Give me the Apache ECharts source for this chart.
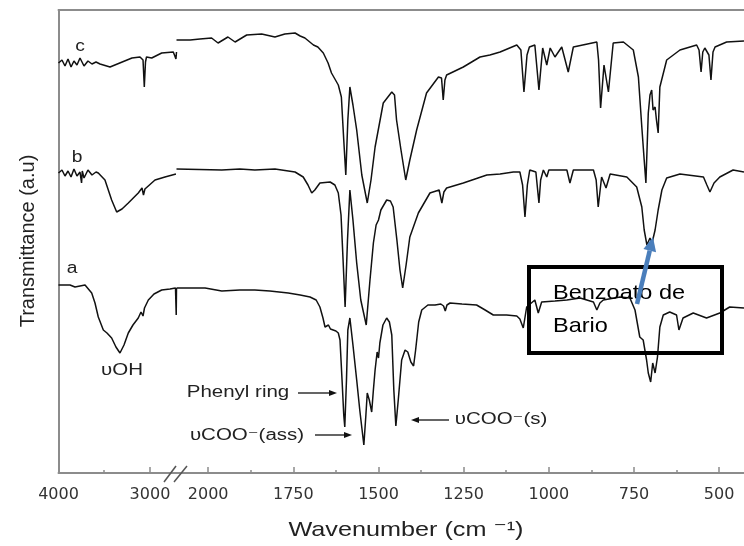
<!DOCTYPE html>
<html>
<head>
<meta charset="utf-8">
<script src="https://cdn.jsdelivr.net/npm/echarts@6/dist/echarts.min.js"></script>
<style>
  html, body { margin: 0; padding: 0; background: #fff; }
  #main { width: 744px; height: 546px; }
</style>
</head>
<body>
<div id="main"></div>
<script>
// FTIR spectra, [wavenumber (cm-1), transmittance (a.u., curves stacked)]
const specC = [
  [4000,410],[3962,413],[3929,407],[3896,414],[3863,406],[3831,412],[3798,408],[3765,415],[3721,407],[3678,412],
  [3634,409],[3590,411],[3546,409],[3437,406],[3197,415],[3109,416],[3076,413],[3062,386],[3049,411],[3038,416],
  [2981,415],[2872,420],[2745,421],[2716,414],[2710,421],
  [2093,433],[2053,433],[2024,434],[1990,435],[1971,430],[1942,436],[1921,431],[1887,438],[1843,439],[1804,436],
  [1775,439],[1745,440],[1730,437],[1716,435],[1691,428],[1678,426],[1662,420],[1648,410],[1638,400],[1618,388],
  [1609,376],[1602,333],[1596,298],[1590,353],[1584,386],[1575,368],[1564,343],[1549,298],[1533,270],[1522,293],
  [1510,326],[1486,370],[1461,381],[1453,378],[1447,353],[1434,323],[1420,293],[1408,313],[1388,343],[1359,380],
  [1324,396],[1315,395],[1310,373],[1305,393],[1300,398],[1251,406],[1202,416],[1173,418],[1143,421],[1094,428],
  [1082,423],[1073,381],[1064,418],[1057,426],[1041,428],[1029,383],[1018,425],[1006,408],[996,425],[982,416],
  [962,426],[943,401],[928,426],[859,431],[854,413],[848,365],[838,408],[825,381],[811,430],[781,431],
  [752,423],[737,396],[727,346],[720,313],[715,290],[708,360],[703,378],[698,383],[694,363],[688,366],
  [684,353],[679,340],[674,386],[654,413],[615,423],[566,428],[559,423],[553,401],[548,421],[542,425],
  [530,418],[524,393],[518,421],[512,426],[478,431],[427,432]
];
const specB = [
  [4000,300],[3962,303],[3929,297],[3896,302],[3863,296],[3831,304],[3798,297],[3765,301],[3748,290],[3740,302],
  [3721,295],[3678,303],[3634,298],[3590,301],[3565,300],[3492,293],[3419,273],[3364,261],[3306,264],[3237,270],
  [3128,280],[3087,285],[3071,278],[3055,284],[2945,293],[2836,296],[2716,299],[2710,299],
  [2093,304],[1960,303],[1907,304],[1863,303],[1804,304],[1745,301],[1721,296],[1707,288],[1696,280],[1687,283],
  [1672,290],[1642,291],[1628,288],[1618,280],[1610,258],[1604,213],[1598,166],[1591,233],[1584,283],[1575,253],
  [1564,210],[1552,173],[1536,148],[1525,193],[1515,230],[1507,248],[1500,253],[1493,263],[1476,273],[1465,272],
  [1457,266],[1446,233],[1437,203],[1429,185],[1419,208],[1408,236],[1383,260],[1349,280],[1322,283],[1314,270],
  [1308,281],[1300,285],[1251,290],[1182,298],[1143,299],[1104,301],[1085,301],[1077,288],[1070,256],[1063,288],
  [1056,303],[1038,301],[1029,270],[1024,293],[1016,303],[1006,296],[1000,303],[947,303],[938,290],[928,303],
  [869,303],[861,293],[855,266],[845,296],[832,285],[820,299],[771,296],[742,286],[727,266],[720,243],
  [712,228],[703,235],[697,230],[688,243],[679,263],[668,283],[654,295],[615,299],[546,296],[536,288],
  [527,281],[515,290],[498,296],[459,303],[427,301]
];
const specA = [
  [4000,188],[3874,188],[3820,186],[3710,188],[3637,180],[3601,170],[3565,156],[3510,143],[3470,140],[3419,135],
  [3372,126],[3328,120],[3284,128],[3237,140],[3186,148],[3128,155],[3098,161],[3076,157],[3060,165],[3018,173],
  [2956,179],[2872,183],[2781,184],[2721,185],[2716,185],[2713,158],[2710,185],
  [2093,185],[2009,185],[1960,182],[1907,183],[1863,183],[1819,182],[1765,180],[1730,178],[1701,176],[1683,173],
  [1672,166],[1663,155],[1657,146],[1647,148],[1641,144],[1633,143],[1625,142],[1618,140],[1613,133],[1607,93],
  [1602,58],[1599,46],[1594,93],[1590,143],[1584,155],[1575,128],[1564,93],[1555,63],[1543,28],[1537,58],
  [1533,80],[1527,73],[1520,61],[1515,83],[1510,103],[1504,121],[1500,115],[1496,130],[1487,148],[1476,155],
  [1468,151],[1461,138],[1455,83],[1449,47],[1442,73],[1432,113],[1422,123],[1414,121],[1405,111],[1397,107],
  [1391,123],[1382,151],[1373,163],[1355,168],[1334,168],[1317,169],[1309,167],[1304,162],[1299,168],[1290,170],
  [1255,169],[1212,168],[1187,163],[1163,158],[1124,158],[1094,157],[1085,154],[1075,145],[1065,166],[1041,173],
  [1031,160],[1021,171],[982,172],[947,173],[908,175],[869,171],[859,163],[850,170],[840,173],[791,176],
  [762,175],[747,163],[733,136],[723,133],[713,113],[708,100],[701,91],[695,110],[688,100],[681,116],
  [674,146],[664,158],[645,161],[625,158],[618,143],[606,155],[576,160],[537,155],[498,160],[469,166],[427,165]
];

// broken wavenumber axis: high range 4000..2710, low range 2093..427
const highRange = [2710, 4000];
const lowRange = [427, 2093];
const highTicks = [4000, 3000];
const highMinor = [3500];
const lowTicks = [2000, 1750, 1500, 1250, 1000, 750, 500];
const lowMinor = [1875, 1625, 1375, 1125, 875, 625];
const yRange = [0, 463];

const part = (spec, lo, hi) => spec.filter(p => p[0] >= lo && p[0] <= hi);

const AXIS_GRAY = '#8c8c8c';
const TEXT = '#222';
const SANS = '"Liberation Sans", "DejaVu Sans", Arial, sans-serif';

function bottomAxis(grid, range, ticks, withLabels, len) {
  return {
    type: 'value', gridIndex: grid, position: 'bottom', inverse: true,
    min: range[0], max: range[1],
    axisLine: { show: withLabels, lineStyle: { color: AXIS_GRAY, width: 2 } },
    axisTick: { show: true, inside: true, length: len, customValues: ticks,
                lineStyle: { color: AXIS_GRAY, width: 1.5 } },
    axisLabel: withLabels
      ? { show: true, customValues: ticks, margin: 14, color: '#333',
          fontFamily: '"DejaVu Sans", sans-serif', fontSize: 16,
          formatter: v => String(v) }
      : { show: false },
    splitLine: { show: false }
  };
}
function topAxis(grid, range) {
  return {
    type: 'value', gridIndex: grid, position: 'top', inverse: true,
    min: range[0], max: range[1],
    axisLine: { show: true, lineStyle: { color: AXIS_GRAY, width: 2 } },
    axisTick: { show: false }, axisLabel: { show: false }, splitLine: { show: false }
  };
}
function curve(spec, xIdx, yIdx) {
  return {
    type: 'line', xAxisIndex: xIdx, yAxisIndex: yIdx, data: spec,
    showSymbol: false, symbol: 'none', silent: true, animation: false,
    lineStyle: { color: '#111', width: 1.5 }
  };
}
function txt(text, x, y, size, sx, opts) {
  opts = opts || {};
  const align = opts.align || 'center';
  return {
    type: 'text', x: x, y: y, scaleX: sx, rotation: opts.rotation || 0, z: 20,
    style: {
      text: text, font: size + 'px ' + SANS, fill: opts.fill || TEXT,
      align: align, verticalAlign: 'middle',
      textAlign: align, textVerticalAlign: 'middle'
    }
  };
}
function arrow(x1, y1, x2, y2, color, width, headLen, headHalf) {
  const dx = x2 - x1, dy = y2 - y1, L = Math.hypot(dx, dy);
  const ux = dx / L, uy = dy / L, nx = -uy, ny = ux;
  const bx = x2 - ux * headLen, by = y2 - uy * headLen;
  return [
    { type: 'line', z: 21, shape: { x1: x1, y1: y1, x2: bx, y2: by },
      style: { stroke: color, lineWidth: width } },
    { type: 'polygon', z: 21,
      shape: { points: [[x2, y2], [bx + nx * headHalf, by + ny * headHalf], [bx - nx * headHalf, by - ny * headHalf]] },
      style: { fill: color } }
  ];
}

const chart = echarts.init(document.getElementById('main'), null, { renderer: 'canvas' });

const graphics = [
  // axis titles
  txt('Transmittance (a.u)', 28, 241, 20, 1, { rotation: Math.PI / 2 }),
  txt('Wavenumber (cm \u207B\u00B9)', 406, 530, 21, 1.2),
  // axis break marks
  { type: 'line', z: 22, shape: { x1: 164, y1: 482, x2: 176, y2: 466 }, style: { stroke: '#555', lineWidth: 1.5 } },
  { type: 'line', z: 22, shape: { x1: 174, y1: 482, x2: 187, y2: 466 }, style: { stroke: '#555', lineWidth: 1.5 } },
  // curve names
  txt('c', 80, 47, 16, 1.2),
  txt('b', 77, 158, 16, 1.2),
  txt('a', 72, 269, 16, 1.2),
  // band assignments
  txt('υOH', 122, 371, 16, 1.28),
  txt('Phenyl ring', 238, 393, 16, 1.28),
  txt('υCOO\u207B(ass)', 247, 436, 16, 1.28),
  txt('υCOO\u207B(s)', 501, 420, 16, 1.28),
  ...arrow(298, 393, 337, 393, '#111', 1.3, 8, 3),
  ...arrow(315, 435, 352, 435, '#111', 1.3, 8, 3),
  ...arrow(449, 420, 411, 420, '#111', 1.3, 8, 3),
  // callout box
  { type: 'rect', z: 20, shape: { x: 529, y: 267, width: 193, height: 86 },
    style: { fill: 'none', stroke: '#000', lineWidth: 4 } },
  txt('Benzoato de', 553, 293, 21, 1.12, { align: 'left', fill: '#000' }),
  txt('Bario', 553, 326, 21, 1.12, { align: 'left', fill: '#000' }),
  ...arrow(637, 304, 653, 237, '#4a7ebb', 4.5, 14, 6.5)
];

chart.setOption({
  animation: false,
  backgroundColor: '#fff',
  grid: [
    { left: 58.5, top: 10, width: 118, bottom: 73, outerBoundsMode: 'none', containLabel: false },
    { left: 176.5, top: 10, right: 0, bottom: 73, outerBoundsMode: 'none', containLabel: false }
  ],
  xAxis: [
    bottomAxis(0, highRange, highTicks, true, 6),
    bottomAxis(0, highRange, highMinor, false, 3),
    topAxis(0, highRange),
    bottomAxis(1, lowRange, lowTicks, true, 6),
    bottomAxis(1, lowRange, lowMinor, false, 3),
    topAxis(1, lowRange)
  ],
  yAxis: [
    { type: 'value', gridIndex: 0, min: yRange[0], max: yRange[1],
      axisLine: { show: true, lineStyle: { color: AXIS_GRAY, width: 2 } },
      axisTick: { show: false }, axisLabel: { show: false }, splitLine: { show: false } },
    { type: 'value', gridIndex: 1, min: yRange[0], max: yRange[1], show: false, splitLine: { show: false } }
  ],
  series: [
    curve(part(specC, highRange[0], highRange[1]), 0, 0),
    curve(part(specB, highRange[0], highRange[1]), 0, 0),
    curve(part(specA, highRange[0], highRange[1]), 0, 0),
    curve(part(specC, lowRange[0], lowRange[1]), 3, 1),
    curve(part(specB, lowRange[0], lowRange[1]), 3, 1),
    curve(part(specA, lowRange[0], lowRange[1]), 3, 1)
  ],
  graphic: { elements: graphics }
});
</script>
</body>
</html>
